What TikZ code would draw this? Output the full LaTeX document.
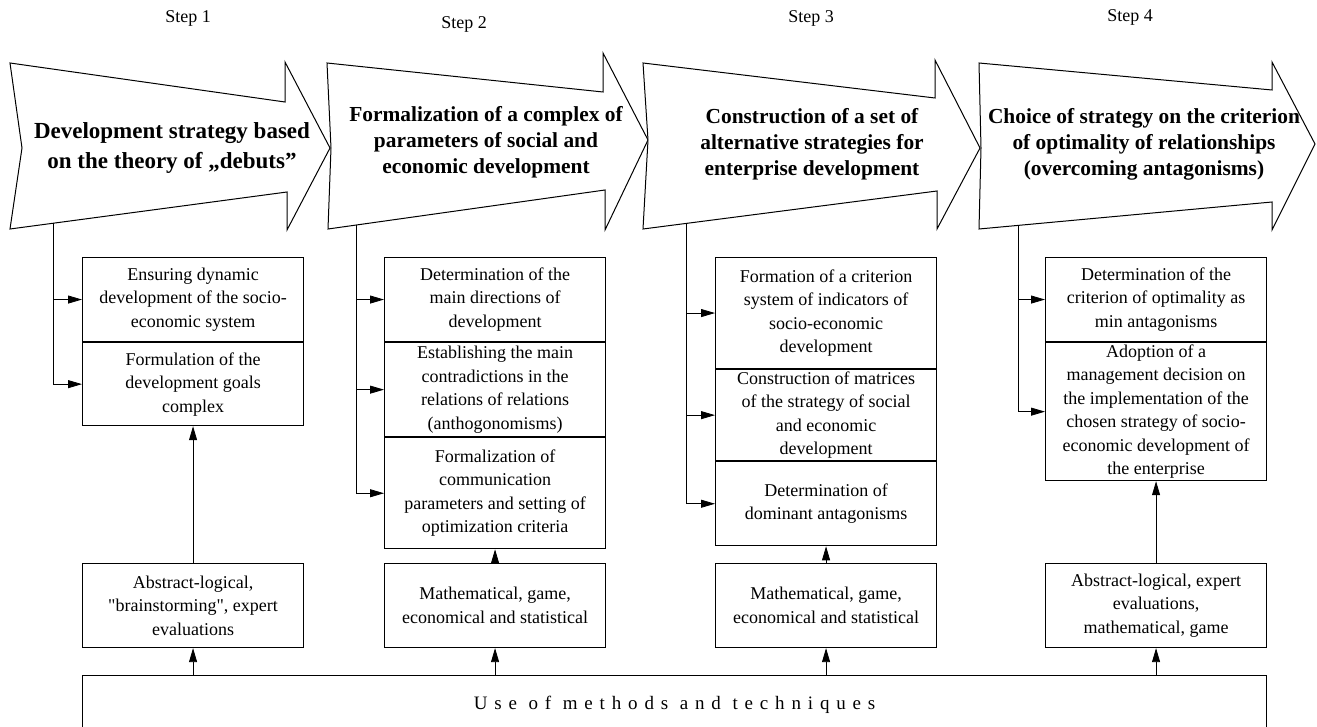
\documentclass[tikz,border=0pt]{standalone}
\usepackage{fontspec}
\setmainfont{Liberation Serif}
\newfontfamily\plainfont{Liberation Serif}
\newfontfamily\spacedfont[LetterSpace=36]{Liberation Serif}
\usetikzlibrary{arrows.meta,calc}
\begin{document}
\begin{tikzpicture}[x=1pt,y=-1pt,
  bigarrow/.style={draw,line width=1pt,fill=white,line join=miter},
  title/.style={font=\fontsize{21.4}{26}\selectfont\bfseries,align=center,inner sep=0pt},
  steplabel/.style={font=\fontsize{18}{22}\selectfont,inner sep=0pt},
  stepbox/.style={draw,line width=1.1pt,minimum width=221pt,inner sep=0pt,align=center,anchor=north west,font=\fontsize{18}{23.5}\selectfont},
  arr/.style={line width=0.8pt,-{Triangle[length=14pt,width=8pt]}}
]
\useasboundingbox (0,0) rectangle (1317,727);

% step labels
\node[steplabel] (l1) at (188,18) {Step 1};
\node[steplabel] (l2) at (464,24) {Step 2};
\node[steplabel] (l3) at (811,18) {Step 3};
\node[steplabel] (l4) at (1130,17) {Step 4};

% big arrows
\draw[bigarrow] (10,63) -- (285,102) -- (285,62) -- (330,148) -- (287,230) -- (287,192) -- (10,229) -- (22,148) -- cycle;
\draw[bigarrow] (327,63) -- (603,92) -- (603,53) -- (648,140) -- (605,230) -- (605,190) -- (328,229) -- (331,148) -- cycle;
\draw[bigarrow] (643,63) -- (935,98) -- (935,60) -- (980,148) -- (937,229) -- (937,191) -- (643,229) -- (648,140) -- cycle;
\draw[bigarrow] (979,63) -- (1272,90) -- (1272,62) -- (1315,144) -- (1272,230) -- (1272,202) -- (979,229) -- (981,148) -- cycle;

\node[title,font=\fontsize{23}{30}\selectfont\bfseries] (t1) at (172,148) {Development strategy based\\on the theory of „debuts”};
\node[title] (t2) at (486,142) {Formalization of a complex of\\parameters of social and\\economic development};
\node[title] (t3) at (812,144) {Construction of a set of\\alternative strategies for\\enterprise development};
\node[title] (t4) at (1144,144) {Choice of strategy on the criterion\\of optimality of relationships\\(overcoming antagonisms)};

% step boxes
\node[stepbox,minimum height=84pt] (b1a) at (82,257) {Ensuring dynamic\\development of the socio-\\economic system};
\node[stepbox,minimum height=83pt] (b1b) at (b1a.south west) {Formulation of the\\development goals\\complex};

\node[stepbox,minimum height=84pt] (b2a) at (384,257) {Determination of the\\main directions of\\development};
\node[stepbox,minimum height=94pt] (b2b) at (b2a.south west) {Establishing the main\\contradictions in the\\relations of relations\\(anthogonomisms)};
\node[stepbox,minimum height=111pt] (b2c) at (b2b.south west) {Formalization of\\communication\\parameters and setting of\\optimization criteria};

\node[stepbox,minimum height=111pt] (b3a) at (715,257) {Formation of a criterion\\system of indicators of\\socio-economic\\development};
\node[stepbox,minimum height=91pt] (b3b) at (b3a.south west) {Construction of matrices\\of the strategy of social\\and economic\\development};
\node[stepbox,minimum height=84pt] (b3c) at (b3b.south west) {Determination of\\dominant antagonisms};

\node[stepbox,minimum height=84pt] (b4a) at (1045,257) {Determination of the\\criterion of optimality as\\min antagonisms};
\node[stepbox,minimum height=138pt] (b4b) at (b4a.south west) {Adoption of a\\management decision on\\the implementation of the\\chosen strategy of socio-\\economic development of\\the enterprise};

% method boxes
\node[stepbox,minimum height=84pt] (m1) at (82,563) {Abstract-logical,\\{\plainfont"}brainstorming{\plainfont"}, expert\\evaluations};
\node[stepbox,minimum height=84pt] (m2) at (384,563) {Mathematical, game,\\economical and statistical};
\node[stepbox,minimum height=84pt] (m3) at (715,563) {Mathematical, game,\\economical and statistical};
\node[stepbox,minimum height=84pt] (m4) at (1045,563) {Abstract-logical, expert\\evaluations,\\mathematical, game};

% bottom box
\node[draw,line width=1.1pt,anchor=north west,minimum width=1184pt,minimum height=58pt,inner sep=0pt,font=\spacedfont\fontsize{19}{23}\selectfont] (use) at (82,675) {Use of methods and techniques};

% connectors from arrows
\coordinate (s1) at (53,223.3);
\coordinate (s2) at (356,225);
\coordinate (s3) at (686,223.4);
\coordinate (s4) at (1018,225.4);

\draw[arr] (s1) |- (b1a.west);
\draw[arr] (s1) |- (b1b.west);
\draw[arr] (s2) |- (b2a.west);
\draw[arr] (s2) |- (b2b.west);
\draw[arr] (s2) |- (b2c.west);
\draw[arr] (s3) |- (b3a.west);
\draw[arr] (s3) |- (b3b.west);
\draw[arr] (s3) |- (b3c.west);
\draw[arr] (s4) |- (b4a.west);
\draw[arr] (s4) |- (b4b.west);

% method -> step boxes
\draw[arr] (m1.north) -- (b1b.south);
\draw[arr] (m2.north) -- (b2c.south);
\draw[arr] (m3.north) -- (b3c.south);
\draw[arr] (m4.north) -- (b4b.south);

% bottom -> methods
\draw[arr] (m1.south |- use.north) -- (m1.south);
\draw[arr] (m2.south |- use.north) -- (m2.south);
\draw[arr] (m3.south |- use.north) -- (m3.south);
\draw[arr] (m4.south |- use.north) -- (m4.south);
\end{tikzpicture}
\end{document}
